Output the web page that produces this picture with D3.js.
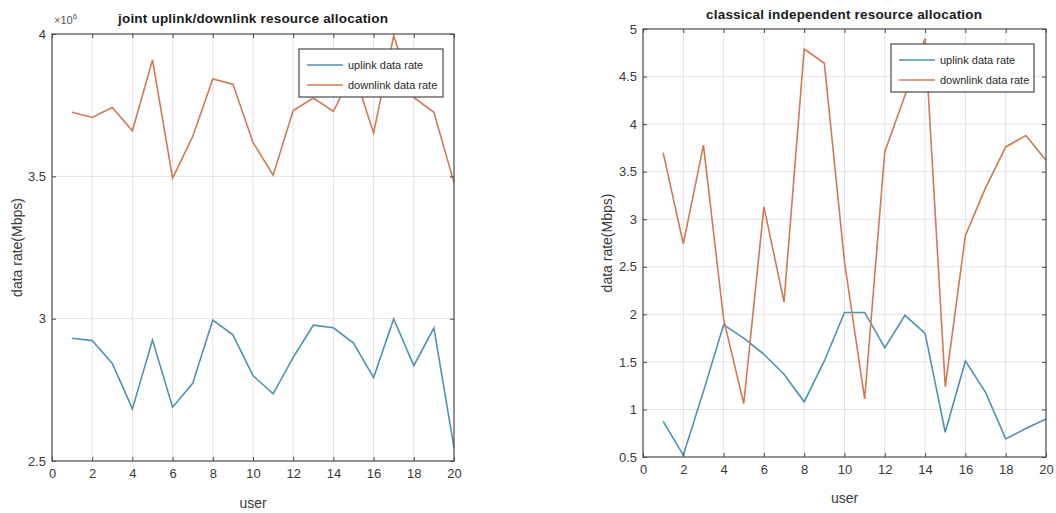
<!DOCTYPE html>
<html>
<head>
<meta charset="utf-8">
<script src="https://cdn.jsdelivr.net/npm/d3@7"></script>
<style>
  body { margin: 0; background: #fff; }
  svg { display: block; font-family: "Liberation Sans", Arial, sans-serif; }
</style>
</head>
<body>
<script>
var users = d3.range(1, 21);

// left panel (values in units of 1e6)
var jointUp = [2.931, 2.923, 2.843, 2.683, 2.925, 2.689, 2.773, 2.995, 2.943, 2.800,
               2.736, 2.864, 2.977, 2.968, 2.914, 2.793, 2.999, 2.835, 2.967, 2.547];
var jointDown = [3.725, 3.707, 3.742, 3.660, 3.909, 3.494, 3.640, 3.842, 3.824, 3.619,
                 3.504, 3.731, 3.775, 3.728, 3.870, 3.652, 3.994, 3.777, 3.725, 3.478];

// right panel
var classUp = [0.875, 0.52, 1.19, 1.89, 1.75, 1.58, 1.37, 1.08, 1.51, 2.02,
               2.02, 1.65, 1.99, 1.80, 0.76, 1.51, 1.18, 0.69, 0.80, 0.90];
var classDown = [3.70, 2.74, 3.78, 1.95, 1.06, 3.13, 2.13, 4.79, 4.64, 2.55,
                 1.11, 3.71, 4.30, 4.90, 1.24, 2.83, 3.33, 3.76, 3.88, 3.62];

var xTicks = d3.range(0, 21, 2);
var leftYTicks = [2.5, 3, 3.5, 4];
var rightYTicks = [0.5, 1, 1.5, 2, 2.5, 3, 3.5, 4, 4.5, 5];
var legendLabels = ["uplink data rate", "downlink data rate"];

var colUp = "#4e92b4", colDown = "#cf7a52";

var svg = d3.select("body").append("svg")
    .attr("width", 1056)
    .attr("height", 513);

function panel(opt) {
  var x = d3.scaleLinear().domain([0, 20]).range([opt.x0, opt.x1]);
  var y = d3.scaleLinear().domain(opt.yDomain).range([opt.y1, opt.y0]);
  var g = svg.append("g");

  // grid
  g.selectAll(".gx").data(xTicks.slice(1, -1)).enter().append("line")
      .attr("x1", d => x(d)).attr("x2", d => x(d))
      .attr("y1", opt.y0).attr("y2", opt.y1)
      .attr("stroke", "#e3e3e3").attr("stroke-width", 1);
  g.selectAll(".gy").data(opt.yTicks.slice(1, -1)).enter().append("line")
      .attr("y1", d => y(d)).attr("y2", d => y(d))
      .attr("x1", opt.x0).attr("x2", opt.x1)
      .attr("stroke", "#e3e3e3").attr("stroke-width", 1);

  // lines
  var line = function (vals) {
    return d3.line().x((d, i) => x(users[i])).y(d => y(d))(vals);
  };
  g.append("path").attr("d", line(opt.up)).attr("fill", "none")
      .attr("stroke", colUp).attr("stroke-width", 1.6);
  g.append("path").attr("d", line(opt.down)).attr("fill", "none")
      .attr("stroke", colDown).attr("stroke-width", 1.6);

  // box
  g.append("rect").attr("x", opt.x0).attr("y", opt.y0)
      .attr("width", opt.x1 - opt.x0).attr("height", opt.y1 - opt.y0)
      .attr("fill", "none").attr("stroke", "#4a4a4a").attr("stroke-width", 1.2);

  // axes
  var ax = g.append("g").attr("transform", "translate(0," + opt.y1 + ")")
      .call(d3.axisBottom(x).tickValues(xTicks).tickSize(-4).tickPadding(8));
  var ay = g.append("g").attr("transform", "translate(" + opt.x0 + ",0)")
      .call(d3.axisLeft(y).tickValues(opt.yTicks).tickSize(-4).tickPadding(6).tickFormat(d3.format("")));
  g.append("g").attr("transform", "translate(0," + opt.y0 + ")")
      .call(d3.axisTop(x).tickValues(xTicks).tickSize(-4).tickFormat(""));
  g.append("g").attr("transform", "translate(" + opt.x1 + ",0)")
      .call(d3.axisRight(y).tickValues(opt.yTicks).tickSize(-4).tickFormat(""));
  g.selectAll(".domain").remove();
  g.selectAll(".tick line").attr("stroke", "#4a4a4a");
  g.selectAll(".tick text").attr("fill", "#3a3a3a").style("font-size", "13px");

  // title & labels
  g.append("text").attr("x", opt.titleX).attr("y", opt.titleY)
      .attr("text-anchor", "middle").style("font-size", "13.5px").style("font-weight", "bold")
      .attr("fill", "#1a1a1a").attr("textLength", opt.titleW).text(opt.title);
  g.append("text").attr("x", (opt.x0 + opt.x1) / 2).attr("y", opt.xlabY)
      .attr("text-anchor", "middle").style("font-size", "14px").attr("fill", "#3a3a3a").text("user");
  g.append("text").attr("transform", "translate(" + opt.ylabX + "," + ((opt.y0 + opt.y1) / 2) + ") rotate(-90)")
      .attr("text-anchor", "middle").style("font-size", "14px").attr("fill", "#3a3a3a").text("data rate(Mbps)");

  // legend
  var lg = g.append("g").attr("transform", "translate(" + opt.lx + "," + opt.ly + ")");
  lg.append("rect").attr("width", opt.lw).attr("height", 48)
      .attr("fill", "#fff").attr("stroke", "#4a4a4a").attr("stroke-width", 1.2);
  [colUp, colDown].forEach(function (c, i) {
    var yy = 16 + i * 20;
    lg.append("line").attr("x1", 8).attr("x2", 44).attr("y1", yy).attr("y2", yy)
        .attr("stroke", c).attr("stroke-width", 1.6);
    lg.append("text").attr("x", 49).attr("y", yy + 4).style("font-size", "11px")
        .attr("fill", "#2a2a2a").text(legendLabels[i]);
  });
  return g;
}

var left = panel({
  x0: 52, x1: 454, y0: 34, y1: 461, yDomain: [2.5, 4], yTicks: leftYTicks,
  up: jointUp, down: jointDown, title: "joint uplink/downlink resource allocation",
  titleX: 253, titleY: 23, titleW: 270, xlabY: 508, ylabX: 22,
  lx: 299, ly: 49, lw: 144
});
left.append("text").attr("x", 54).attr("y", 24).style("font-size", "11px").attr("fill", "#555")
    .text("\u00d710").append("tspan").attr("dy", -5).style("font-size", "8px").text("6");

panel({
  x0: 643, x1: 1046, y0: 29, y1: 457, yDomain: [0.5, 5], yTicks: rightYTicks,
  up: classUp, down: classDown, title: "classical independent resource allocation",
  titleX: 844, titleY: 19, titleW: 276, xlabY: 503, ylabX: 612,
  lx: 891, ly: 44, lw: 143
});
</script>
</body>
</html>
